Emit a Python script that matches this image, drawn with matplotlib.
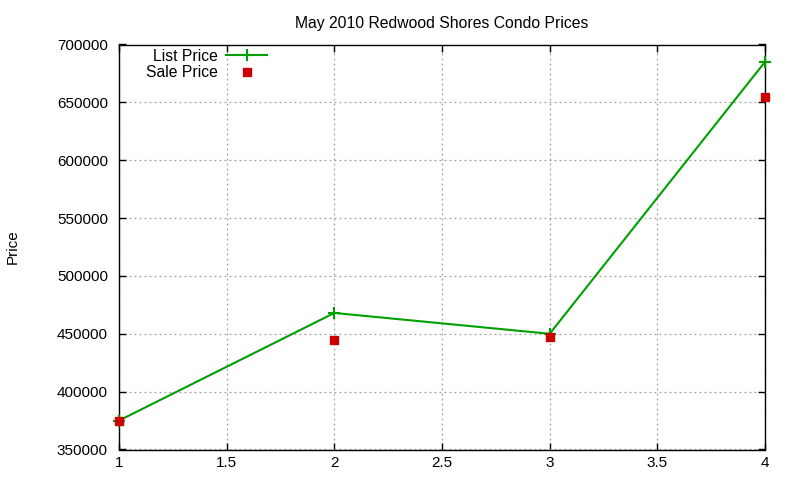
import matplotlib
matplotlib.use("Agg")
import matplotlib.pyplot as plt
from matplotlib.ticker import MultipleLocator, FuncFormatter

plt.rcParams['font.family'] = ['Liberation Sans', 'DejaVu Sans']

title = "May 2010 Redwood Shores Condo Prices"
x_vals = [1, 2, 3, 4]
list_price = [375000, 468000, 450000, 685000]
sale_price = [375000, 445000, 447000, 655000]
series_names = ["List Price", "Sale Price"]
y_label = "Price"

fig = plt.figure(figsize=(8, 4.8), dpi=100)
ax = fig.add_axes([119/800, 1 - 449.5/480, (765-119)/800, (449.5-44.5)/480])

green = '#00a000'
red = '#cc0000'
ax.plot(x_vals, list_price, color=green, lw=1.5, marker='+', markersize=8,
        markeredgewidth=1.5, label=series_names[0], zorder=3, clip_on=False)
ax.plot(x_vals, sale_price, linestyle='none', color=red, marker='s', markersize=6,
        label=series_names[1], zorder=4, clip_on=False)

ax.set_xlim(1, 4)
ax.set_ylim(350000, 700000)
ax.xaxis.set_major_locator(MultipleLocator(0.5))
ax.yaxis.set_major_locator(MultipleLocator(50000))
ax.xaxis.set_major_formatter(FuncFormatter(lambda v, p: ('%g' % v)))
ax.yaxis.set_major_formatter(FuncFormatter(lambda v, p: '%d' % v))

ax.grid(True, color='#a0a0a0', linestyle=(0, (1.5, 2.5)), linewidth=0.9)
ax.tick_params(direction='in', length=5, width=1, top=True, right=True,
               labelsize=11, colors='black')
ax.tick_params(axis='x', pad=5)
ax.tick_params(axis='y', pad=8)
for s in ax.spines.values():
    s.set_linewidth(1.0)
    s.set_color('black')

ax.set_title(title, fontsize=11.3, pad=12)
ax.set_ylabel(y_label, fontsize=11)
ax.yaxis.set_label_coords((20 - 119) / 646, 0.5)

leg = ax.legend(loc='upper right', bbox_to_anchor=((267 - 119) / 646, 0.99),
                frameon=False, markerfirst=False, fontsize=11.3,
                handlelength=2.6, handletextpad=0.5, labelspacing=0.12,
                borderpad=0, borderaxespad=0, numpoints=1)

fig.savefig('out.png', dpi=100)
